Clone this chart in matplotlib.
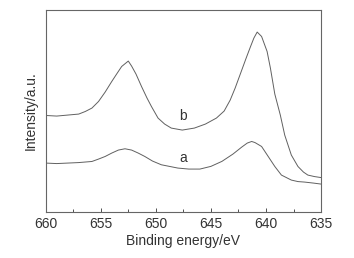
import matplotlib
matplotlib.use('Agg')
import matplotlib.pyplot as plt
from matplotlib.ticker import MultipleLocator

plt.rcParams['font.family'] = ['Liberation Sans', 'DejaVu Sans']

# binding energy (eV) and intensity (a.u.)
energy_b = [660, 659, 658, 657, 656.4, 655.8, 655.2, 654.6, 654, 653.5, 653.1, 652.5,
            652.2, 651.8, 651.3, 650.8, 650.4, 649.8, 649.2, 648.6, 647.6, 646.5, 645.5,
            644.5, 643.8, 643.25, 642.8, 642.3, 641.8, 641.4, 641.1, 640.8, 640.4,
            639.9, 639.6, 639.2, 638.7, 638.3, 637.7, 637.1, 636.6, 636.2, 635.6, 635]
intensity_b = [96.6, 96, 97, 98, 100.6, 104, 110.6, 120, 130.6, 139, 145.6, 151,
               146, 138, 125.6, 114, 105.6, 94, 88, 84, 82, 84, 88,
               94, 101, 112, 124, 139, 154, 165.6, 174, 180, 175.6,
               160.6, 144, 118, 97, 77, 57, 45.6, 40, 37, 35.5, 34.5]

energy_a = [660, 659, 658, 657, 655.8, 655.2, 654.6, 654, 653.4, 652.8, 652.2, 651.6,
            651, 650.3, 649.5, 648, 647, 646, 645, 644, 643, 642.2, 641.7, 641.3,
            641.0, 640.4, 639.8, 639.2, 638.6, 637.7, 637.1, 636.5, 635.7, 635]
intensity_a = [49, 48.5, 49, 49.5, 50.6, 53, 55.6, 59, 62, 63.3, 62, 59,
               55.6, 51, 47.3, 44, 43, 43, 45.7, 50.7, 58, 65, 69, 70.6,
               69.5, 65.6, 55.6, 45.6, 37, 32, 30.5, 30, 29, 28]

fig = plt.figure(figsize=(3.54, 2.58), dpi=100)
ax = fig.add_axes([0.129, 0.178, 0.778, 0.783])

line_col = '#606060'
ax.plot(energy_b, intensity_b, color=line_col, lw=0.7)
ax.plot(energy_a, intensity_a, color=line_col, lw=0.7)
ax.text(647.5, 96, 'b', fontsize=10, color='#333333', ha='center', va='center')
ax.text(647.5, 54, 'a', fontsize=10, color='#333333', ha='center', va='center')

ax.set_xlim(660, 635)
ax.set_ylim(0, 202)
ax.xaxis.set_major_locator(MultipleLocator(5))
ax.xaxis.set_minor_locator(MultipleLocator(2.5))
ax.tick_params(axis='x', which='both', direction='in', top=False, labelsize=10,
               colors='#333333', length=3, width=0.6)
ax.tick_params(axis='x', which='minor', length=2)
ax.set_yticks([])
for s in ax.spines.values():
    s.set_color('#666666')
    s.set_linewidth(0.8)

ax.set_xlabel('Binding energy/eV', fontsize=10, color='#333333', labelpad=2)
ax.set_ylabel('Intensity/a.u.', fontsize=10, color='#333333', labelpad=6)

fig.savefig('out.png', dpi=100)
